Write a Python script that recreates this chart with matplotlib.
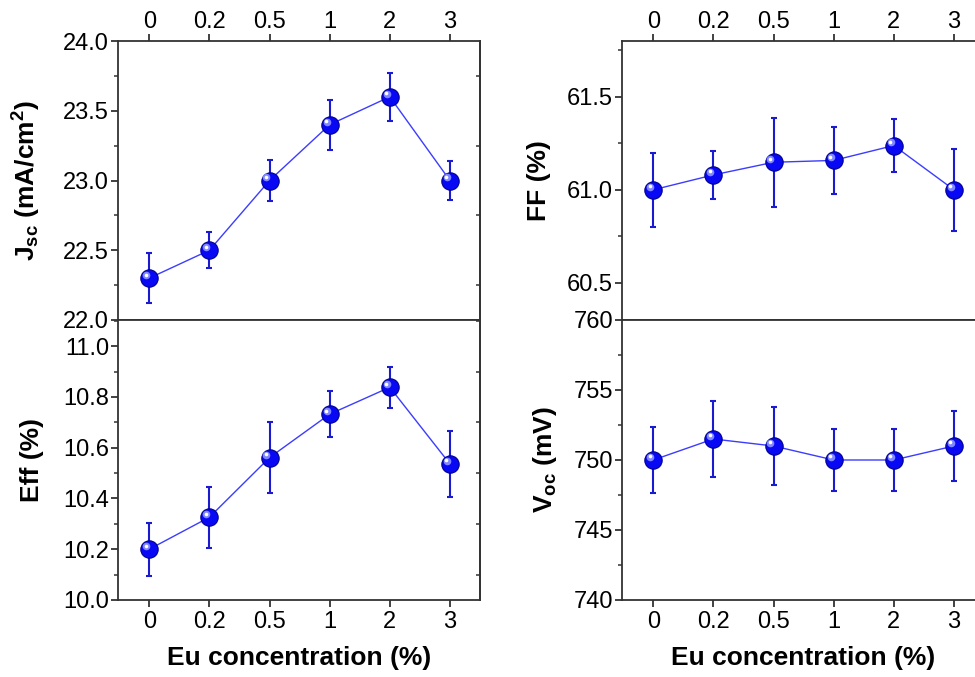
import matplotlib
matplotlib.use("Agg")
import matplotlib.pyplot as plt
from matplotlib.ticker import MultipleLocator
from matplotlib import transforms
import numpy as np

plt.rcParams['font.family'] = ['Liberation Sans', 'DejaVu Sans']
plt.rcParams['mathtext.fontset'] = 'custom'
plt.rcParams['mathtext.rm'] = 'Liberation Sans'
plt.rcParams['mathtext.bf'] = 'Liberation Sans:bold'

# DATOS
conc_labels = ["0", "0.2", "0.5", "1", "2", "3"]

jsc = [22.30, 22.50, 23.00, 23.40, 23.60, 23.00]
jsc_err = [0.18, 0.13, 0.15, 0.18, 0.17, 0.14]

eff = [10.20, 10.326, 10.561, 10.732, 10.838, 10.536]
eff_err = [0.105, 0.12, 0.14, 0.09, 0.08, 0.13]

ff = [61.00, 61.08, 61.148, 61.158, 61.238, 61.00]
ff_err = [0.20, 0.13, 0.24, 0.18, 0.14, 0.22]

voc = [750.0, 751.5, 751.0, 750.0, 750.0, 751.0]
voc_err = [2.33, 2.72, 2.8, 2.23, 2.2, 2.5]

FS_TICK = 17
FS_LABEL = 19
COR_LINHA = "#3c3cff"
COR_ERRO = "#1a1ad0"
COR_EIXO = "#333333"

fig = plt.figure(figsize=(9.75, 6.77), dpi=100)

W = 362 / 975
ax_jsc = fig.add_axes([118 / 975, 1 - 320 / 677, W, 279 / 677])
ax_eff = fig.add_axes([118 / 975, 1 - 600 / 677, W, 280 / 677])
ax_ff = fig.add_axes([622 / 975, 1 - 320 / 677, W, 279 / 677])
ax_voc = fig.add_axes([622 / 975, 1 - 600 / 677, W, 280 / 677])

x = np.arange(len(conc_labels))


def desenhar(ax, y, yerr):
    ax.plot(x, y, color=COR_LINHA, lw=1.0, zorder=2)
    ax.errorbar(x, y, yerr=yerr, fmt="none", ecolor=COR_ERRO, elinewidth=1.5,
                capsize=2.4, capthick=1.5, zorder=3)
    # esfera: circulo base + brilho
    ax.plot(x, y, "o", ms=12.5, mfc="#0808f5", mec="#00008c", mew=0.8, zorder=4)
    brilho = transforms.offset_copy(ax.transData, fig=fig, x=-2.2, y=2.2, units="points")
    ax.plot(x, y, "o", ms=5.5, mfc="#7f86ff", mec="none", transform=brilho, zorder=5)
    brilho2 = transforms.offset_copy(ax.transData, fig=fig, x=-2.6, y=2.6, units="points")
    ax.plot(x, y, "o", ms=2.6, mfc="#ffffff", mec="none", transform=brilho2, zorder=6)


def formatar(ax, ylim, major, minor, fmt, topo):
    ax.set_xlim(-0.52, 5.5)
    ax.set_ylim(*ylim)
    ax.set_xticks(x)
    ax.yaxis.set_major_locator(MultipleLocator(major))
    ax.yaxis.set_minor_locator(MultipleLocator(minor))
    ax.yaxis.set_major_formatter(plt.FormatStrFormatter(fmt))
    for s in ax.spines.values():
        s.set_linewidth(1.3)
        s.set_color(COR_EIXO)
    ax.tick_params(axis="y", which="major", direction="out", length=5, width=1.3,
                   color=COR_EIXO, labelsize=FS_TICK, pad=1.5, left=True, right=False)
    ax.tick_params(axis="y", which="minor", direction="out", length=3, width=1.1,
                   color=COR_EIXO, left=True, right=False)
    if topo:
        ax.tick_params(axis="x", direction="out", length=5, width=1.3, color=COR_EIXO,
                       top=True, bottom=True, labeltop=True, labelbottom=False,
                       labelsize=FS_TICK, pad=1)
        ax.set_xticklabels(conc_labels)
    else:
        ax.tick_params(axis="x", direction="out", length=5, width=1.3, color=COR_EIXO,
                       top=False, bottom=True, labelsize=FS_TICK, pad=3)
        ax.set_xticklabels(conc_labels)
        ax.set_xlabel("Eu concentration (%)", fontsize=FS_LABEL, fontweight="bold")
        ax.xaxis.set_label_coords(0.5, -0.165)
    # ticks menores do lado direito, para dentro
    sec = ax.secondary_yaxis("right")
    sec.yaxis.set_major_locator(MultipleLocator(major))
    sec.yaxis.set_minor_locator(MultipleLocator(minor))
    sec.tick_params(which="both", direction="in", labelright=False, width=1.1, color=COR_EIXO)
    sec.tick_params(which="major", length=0)
    sec.tick_params(which="minor", length=3)
    sec.spines["right"].set_linewidth(1.3)
    sec.spines["right"].set_color(COR_EIXO)


desenhar(ax_jsc, jsc, jsc_err)
desenhar(ax_eff, eff, eff_err)
desenhar(ax_ff, ff, ff_err)
desenhar(ax_voc, voc, voc_err)

formatar(ax_jsc, (22.0, 24.0), 0.5, 0.25, "%.1f", True)
formatar(ax_eff, (10.0, 11.103), 0.2, 0.1, "%.1f", False)
formatar(ax_ff, (60.3, 61.8), 0.5, 0.25, "%.1f", True)
formatar(ax_voc, (740, 760), 5, 2.5, "%d", False)

ax_jsc.set_ylabel(r"$\mathbf{J_{sc}}$ (mA/cm$^\mathbf{2}$)", fontsize=FS_LABEL, fontweight="bold")
ax_jsc.yaxis.set_label_coords(-0.21, 0.5)
ax_eff.set_ylabel("Eff (%)", fontsize=FS_LABEL, fontweight="bold")
ax_eff.yaxis.set_label_coords(-0.205, 0.5)
ax_ff.set_ylabel("FF (%)", fontsize=FS_LABEL, fontweight="bold")
ax_ff.yaxis.set_label_coords(-0.196, 0.5)
ax_voc.set_ylabel(r"$\mathbf{V_{oc}}$ (mV)", fontsize=FS_LABEL, fontweight="bold")
ax_voc.yaxis.set_label_coords(-0.175, 0.5)

fig.savefig("out.png", dpi=100)
